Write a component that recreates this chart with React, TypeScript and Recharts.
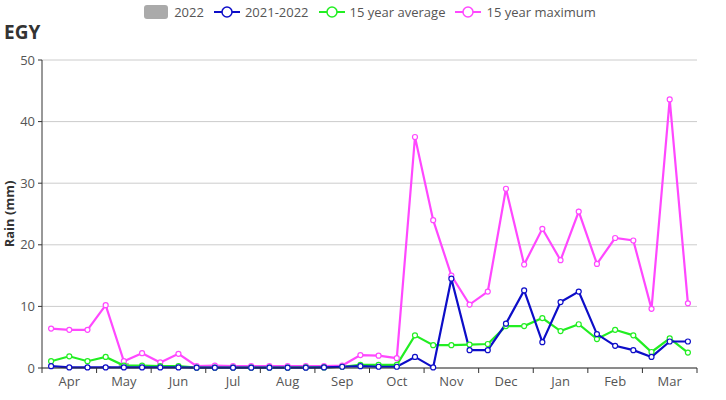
import React from "react";
import { Bar, CartesianGrid, ComposedChart, Line, XAxis, YAxis } from "recharts";

const months = ["Apr", "May", "Jun", "Jul", "Aug", "Sep", "Oct", "Nov", "Dec", "Jan", "Feb", "Mar"];

// dekadal rainfall (mm), Apr dekad 1 .. Mar dekad 3
const rain2022 = [0, 0, 0, 0.3, 0.8, 0, 0, 0, 0, 0, 0, 0, 0, 0, 0, 0, 0, 0, 0, 0, 0, 0, 0, 0, 0, 0, 0, 0, 0, 0, 0, 0, 0, 0, 0, 0];
const rain2122 = [
  0.3, 0.1, 0.1, 0.1, 0.1, 0.1, 0.1, 0.1, 0.05, 0.05, 0.05, 0.05, 0.05, 0.05, 0.05, 0.1, 0.2, 0.3,
  0.2, 0.2, 1.8, 0.1, 14.5, 2.9, 2.9, 7.2, 12.6, 4.2, 10.7, 12.4, 5.5, 3.6, 2.9, 1.8, 4.3, 4.3,
];
const avg15 = [
  1.1, 1.9, 1.1, 1.8, 0.4, 0.4, 0.3, 0.3, 0.05, 0.05, 0.05, 0.05, 0.05, 0.05, 0.1, 0.1, 0.2, 0.5,
  0.5, 0.5, 5.3, 3.7, 3.7, 3.8, 3.9, 6.8, 6.8, 8.1, 6.0, 7.1, 4.7, 6.2, 5.3, 2.6, 4.8, 2.5,
];
const max15 = [
  6.4, 6.2, 6.2, 10.2, 1.1, 2.4, 0.9, 2.3, 0.3, 0.4, 0.3, 0.3, 0.3, 0.3, 0.3, 0.3, 0.4, 2.1,
  2.0, 1.6, 37.5, 24.0, 15.0, 10.3, 12.4, 29.1, 16.8, 22.6, 17.5, 25.4, 16.9, 21.1, 20.7, 9.6, 43.6, 10.5,
];
const yTicks = [0, 10, 20, 30, 40, 50];

const data = max15.map((v, i) => ({
  x: i + 0.5,
  y2022: rain2022[i],
  y2122: rain2122[i],
  avg: avg15[i],
  max: v,
}));

// month boundaries get a tick mark, month centres get the label
const xTicks: number[] = [];
for (let m = 0; m <= 12; m++) {
  xTicks.push(m * 3);
  if (m < 12) xTicks.push(m * 3 + 1.5);
}

const FONT = "'Open Sans', 'Noto Sans', sans-serif";

const MonthTick = (props: any) => {
  const { x, y, payload } = props;
  const v = payload.value;
  if (v % 3 === 0) {
    return <line x1={x} y1={y} x2={x} y2={y + 5} stroke="#333" strokeWidth={1} />;
  }
  return (
    <text x={x} y={y + 18} textAnchor="middle" fontSize={13} fill="#555" fontFamily={FONT}>
      {months[Math.floor(v / 3)]}
    </text>
  );
};

const legendItems = [
  { name: "2021-2022", color: "#0d0dc8" },
  { name: "15 year average", color: "#22ee22" },
  { name: "15 year maximum", color: "#ff48ff" },
];

const TopLegend = () => (
  <div
    style={{
      position: "absolute",
      left: 0,
      top: 3,
      width: 726,
      display: "flex",
      justifyContent: "center",
      alignItems: "center",
      fontFamily: FONT,
      fontSize: 13,
      color: "#555",
      gap: 10,
      paddingLeft: 14,
      boxSizing: "border-box",
    }}
  >
    <span style={{ display: "flex", alignItems: "center", gap: 6 }}>
      <span style={{ width: 24, height: 14, borderRadius: 3, background: "#aaa", display: "inline-block" }} />
      2022
    </span>
    {legendItems.map((it) => (
      <span key={it.name} style={{ display: "flex", alignItems: "center", gap: 5 }}>
        <svg width={26} height={14}>
          <line x1={0} y1={7} x2={26} y2={7} stroke={it.color} strokeWidth={2} />
          <circle cx={13} cy={7} r={5} fill="#fff" stroke={it.color} strokeWidth={1.5} />
        </svg>
        {it.name}
      </span>
    ))}
  </div>
);

function App() {
  return (
    <div style={{ position: "absolute", left: 0, top: 0, width: 726, height: 400 }}>
      <ComposedChart width={726} height={400} data={data} margin={{ top: 60, right: 29, bottom: 0, left: 0 }}>
        <CartesianGrid vertical={false} stroke="#ccc" />
        <XAxis
          dataKey="x"
          type="number"
          domain={[0, 36]}
          ticks={xTicks}
          interval={0}
          tickLine={false}
          tickSize={0}
          tickMargin={0}
          tick={<MonthTick />}
          height={32}
          stroke="#333"
          allowDecimals
        />
        <YAxis
          domain={[0, 50]}
          ticks={yTicks}
          width={42}
          tickSize={4}
          tickMargin={3}
          stroke="#333"
          tick={{ fill: "#555", fontSize: 13, fontFamily: FONT }}
          label={{
            value: "Rain (mm)",
            angle: -90,
            position: "insideLeft",
            offset: 9,
            style: { fontWeight: 700, fontSize: 13, fill: "#333", fontFamily: FONT, textAnchor: "middle" },
          }}
        />
        <Bar dataKey="y2022" name="2022" fill="#aaa" barSize={10} isAnimationActive={false} />
        <Line
          dataKey="max"
          stroke="#ff48ff"
          strokeWidth={2.2}
          dot={{ r: 2.5, fill: "#fff", stroke: "#ff48ff", strokeWidth: 1.2 }}
          isAnimationActive={false}
        />
        <Line
          dataKey="avg"
          stroke="#22ee22"
          strokeWidth={2.2}
          dot={{ r: 2.5, fill: "#fff", stroke: "#22ee22", strokeWidth: 1.2 }}
          isAnimationActive={false}
        />
        <Line
          dataKey="y2122"
          stroke="#0d0dc8"
          strokeWidth={2.2}
          dot={{ r: 2.5, fill: "#fff", stroke: "#0d0dc8", strokeWidth: 1.2 }}
          isAnimationActive={false}
        />
      </ComposedChart>
      <TopLegend />
      <div
        style={{
          position: "absolute",
          left: 4,
          top: 19,
          fontFamily: FONT,
          fontWeight: 700,
          fontSize: 19,
          color: "#333",
        }}
      >
        EGY
      </div>
    </div>
  );
}

export default App;
